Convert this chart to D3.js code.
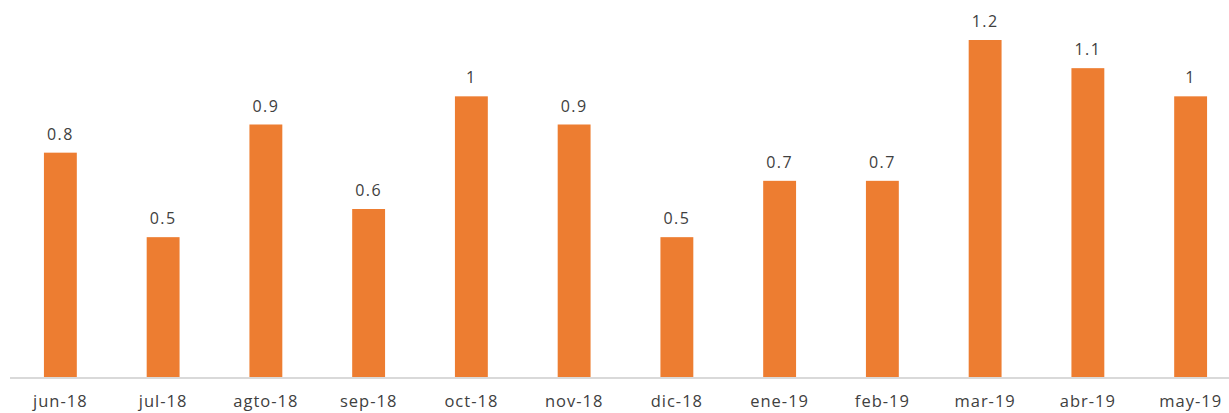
<!DOCTYPE html>
<html><head><meta charset="utf-8">
<script src="https://cdn.jsdelivr.net/npm/d3@7"></script>
<style>body{margin:0;background:#fff}svg{display:block}</style>
</head><body>
<script>
const categories = ["jun-18","jul-18","agto-18","sep-18","oct-18","nov-18","dic-18","ene-19","feb-19","mar-19","abr-19","may-19"];
const values = [0.8,0.5,0.9,0.6,1,0.9,0.5,0.7,0.7,1.2,1.1,1];
const labels = ["0.8","0.5","0.9","0.6","1","0.9","0.5","0.7","0.7","1.2","1.1","1"];

const W=1229,H=413;
const svg=d3.select("body").append("svg").attr("width",W).attr("height",H);
const x=d3.scaleBand().domain(categories).range([9,1242]).paddingInner(0.68).paddingOuter(0.34);
const y=d3.scaleLinear().domain([0,1.2]).range([378,40]);
const font="'Open Sans', 'DejaVu Sans', sans-serif";

svg.selectAll("rect.bar").data(values).join("rect")
  .attr("x",(d,i)=>x(categories[i])).attr("width",x.bandwidth())
  .attr("y",d=>y(d)).attr("height",d=>y(0)-y(d)).attr("fill","#ED7D31");

svg.selectAll("text.val").data(values).join("text")
  .attr("x",(d,i)=>x(categories[i])+x.bandwidth()/2).attr("y",d=>y(d)-13)
  .attr("text-anchor","middle").attr("font-family",font).attr("font-size",16)
  .attr("letter-spacing","1.5px")
  .attr("fill","#404040").text((d,i)=>labels[i]);

const ax=svg.append("g").attr("transform","translate(0,378)").call(d3.axisBottom(x).tickSize(0).tickPadding(17));
ax.select(".domain").attr("stroke","#d9d9d9").attr("stroke-width",2).attr("d","M10,0H1229");
ax.selectAll("text").attr("font-family",font).attr("font-size",16.5).attr("letter-spacing","1px").attr("fill","#404040");
</script>
</body></html>
